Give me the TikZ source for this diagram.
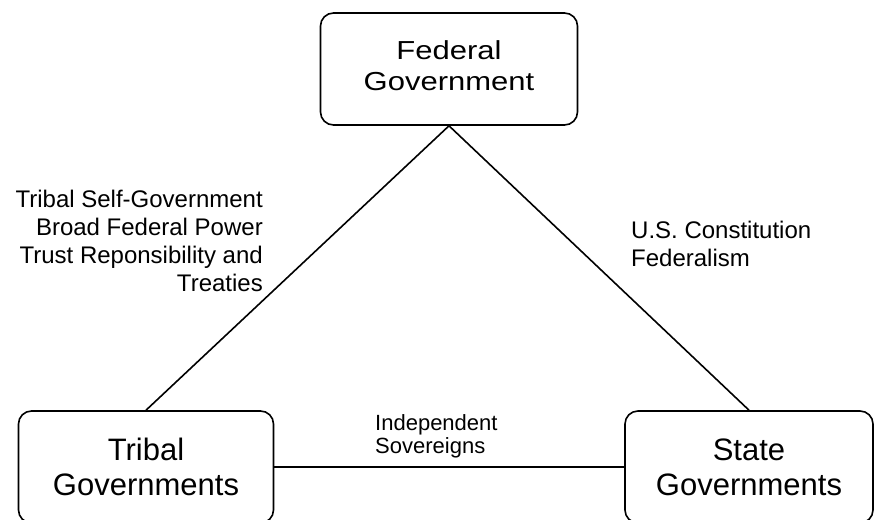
\documentclass[tikz,border=0pt]{standalone}
\usepackage{fontspec}
\setmainfont{Liberation Sans}
\usepackage{graphicx}
\usepackage{tikz}
\usetikzlibrary{positioning}

\begin{document}
\begin{tikzpicture}[x=1pt, y=-1pt,
  govbox/.style={draw, line width=1.6pt, rounded corners=13pt, minimum height=112pt, align=center, font=\fontsize{31}{35}\selectfont},
  link/.style={line width=1.6pt},
  lbl/.style={inner sep=0pt, font=\fontsize{24}{28}\selectfont}]
\useasboundingbox (0,0) rectangle (874,519);
\node [govbox, minimum width=257pt] (fed) at (449,69)
  {\scalebox{1}[0.84]{\fontsize{31}{37}\selectfont\begin{tabular}{@{}c@{}}Federal\\Government\end{tabular}}};
\node [govbox, minimum width=255pt] (tribal) at (146,467) {Tribal\\Governments};
\node [govbox, minimum width=248pt] (state) at (749,467) {State\\Governments};
\draw [link] (fed.south) -- (tribal.north);
\draw [link] (fed.south) -- (state.north);
\draw [link] (tribal.east) -- (state.west);
\node [lbl, align=right, anchor=north east] (tribalfed) at (263,190)
  {Tribal Self-Government\\Broad Federal Power\\Trust Reponsibility and\\Treaties};
\node [lbl, align=left, anchor=north west] (fedstate) at (631,221)
  {U.S. Constitution\\Federalism};
\node [lbl, align=left, anchor=north west, font=\fontsize{22}{23}\selectfont] (sovereign) at (375,414)
  {Independent\\Sovereigns};
\end{tikzpicture}
\end{document}
